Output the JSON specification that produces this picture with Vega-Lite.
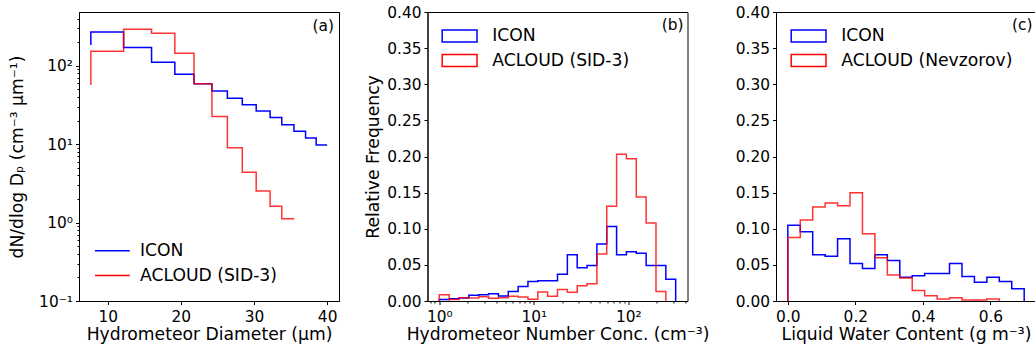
{
  "$schema": "https://vega.github.io/schema/vega-lite/v6.json",
  "padding": {"left": 8, "top": 4, "right": 0, "bottom": 0},
  "background": "white",
  "bounds": "flush",
  "spacing": 88.5,
  "datasets": {
    "psd": [
      {"d": 7.7, "v": 185, "s": "ICON"},
      {"d": 12.18, "v": 271, "s": "ICON"},
      {"d": 16.0, "v": 171, "s": "ICON"},
      {"d": 19.18, "v": 111, "s": "ICON"},
      {"d": 21.8, "v": 78, "s": "ICON"},
      {"d": 24.25, "v": 59, "s": "ICON"},
      {"d": 26.36, "v": 47.6, "s": "ICON"},
      {"d": 28.4, "v": 38.7, "s": "ICON"},
      {"d": 30.3, "v": 31.9, "s": "ICON"},
      {"d": 32.2, "v": 26.5, "s": "ICON"},
      {"d": 33.8, "v": 22.0, "s": "ICON"},
      {"d": 35.46, "v": 17.7, "s": "ICON"},
      {"d": 37.05, "v": 14.6, "s": "ICON"},
      {"d": 38.5, "v": 12.0, "s": "ICON"},
      {"d": 40.0, "v": 9.8, "s": "ICON"},
      {"d": 7.7, "v": 56.8, "s": "ACLOUD (SID-3)"},
      {"d": 12.18, "v": 154, "s": "ACLOUD (SID-3)"},
      {"d": 16.0, "v": 293, "s": "ACLOUD (SID-3)"},
      {"d": 19.18, "v": 261, "s": "ACLOUD (SID-3)"},
      {"d": 21.8, "v": 145, "s": "ACLOUD (SID-3)"},
      {"d": 24.25, "v": 59, "s": "ACLOUD (SID-3)"},
      {"d": 26.36, "v": 22.6, "s": "ACLOUD (SID-3)"},
      {"d": 28.4, "v": 9.0, "s": "ACLOUD (SID-3)"},
      {"d": 30.3, "v": 4.38, "s": "ACLOUD (SID-3)"},
      {"d": 32.2, "v": 2.53, "s": "ACLOUD (SID-3)"},
      {"d": 33.8, "v": 1.62, "s": "ACLOUD (SID-3)"},
      {"d": 35.5, "v": 1.12, "s": "ACLOUD (SID-3)"}
    ],
    "nc": [
      {"x": 1.0, "f": 0, "s": "ICON"},
      {"x": 1.2711, "f": 0.002, "s": "ICON"},
      {"x": 1.6155, "f": 0.003, "s": "ICON"},
      {"x": 2.0535, "f": 0.004, "s": "ICON"},
      {"x": 2.6102, "f": 0.0078, "s": "ICON"},
      {"x": 3.3176, "f": 0.0086, "s": "ICON"},
      {"x": 4.217, "f": 0.010, "s": "ICON"},
      {"x": 5.36, "f": 0.0068, "s": "ICON"},
      {"x": 6.8129, "f": 0.013, "s": "ICON"},
      {"x": 8.6596, "f": 0.020, "s": "ICON"},
      {"x": 11.007, "f": 0.027, "s": "ICON"},
      {"x": 13.99, "f": 0.028, "s": "ICON"},
      {"x": 17.783, "f": 0.028, "s": "ICON"},
      {"x": 22.603, "f": 0.037, "s": "ICON"},
      {"x": 28.73, "f": 0.064, "s": "ICON"},
      {"x": 36.517, "f": 0.046, "s": "ICON"},
      {"x": 46.416, "f": 0.049, "s": "ICON"},
      {"x": 58.997, "f": 0.079, "s": "ICON"},
      {"x": 74.989, "f": 0.103, "s": "ICON"},
      {"x": 95.315, "f": 0.064, "s": "ICON"},
      {"x": 121.15, "f": 0.068, "s": "ICON"},
      {"x": 153.99, "f": 0.066, "s": "ICON"},
      {"x": 195.73, "f": 0.049, "s": "ICON"},
      {"x": 248.78, "f": 0.049, "s": "ICON"},
      {"x": 316.23, "f": 0.030, "s": "ICON"},
      {"x": 316.23, "f": 0, "s": "ICON"},
      {"x": 1.0, "f": 0, "s": "ACLOUD (SID-3)"},
      {"x": 1.2711, "f": 0.0088, "s": "ACLOUD (SID-3)"},
      {"x": 1.6155, "f": 0.002, "s": "ACLOUD (SID-3)"},
      {"x": 2.0535, "f": 0.0046, "s": "ACLOUD (SID-3)"},
      {"x": 2.6102, "f": 0.004, "s": "ACLOUD (SID-3)"},
      {"x": 3.3176, "f": 0.006, "s": "ACLOUD (SID-3)"},
      {"x": 4.217, "f": 0.0037, "s": "ACLOUD (SID-3)"},
      {"x": 5.36, "f": 0.0045, "s": "ACLOUD (SID-3)"},
      {"x": 6.8129, "f": 0.0065, "s": "ACLOUD (SID-3)"},
      {"x": 8.6596, "f": 0.0055, "s": "ACLOUD (SID-3)"},
      {"x": 11.007, "f": 0.0023, "s": "ACLOUD (SID-3)"},
      {"x": 13.99, "f": 0.0124, "s": "ACLOUD (SID-3)"},
      {"x": 17.783, "f": 0.0065, "s": "ACLOUD (SID-3)"},
      {"x": 22.603, "f": 0.016, "s": "ACLOUD (SID-3)"},
      {"x": 28.73, "f": 0.012, "s": "ACLOUD (SID-3)"},
      {"x": 36.517, "f": 0.021, "s": "ACLOUD (SID-3)"},
      {"x": 46.416, "f": 0.024, "s": "ACLOUD (SID-3)"},
      {"x": 58.997, "f": 0.065, "s": "ACLOUD (SID-3)"},
      {"x": 74.989, "f": 0.131, "s": "ACLOUD (SID-3)"},
      {"x": 95.315, "f": 0.203, "s": "ACLOUD (SID-3)"},
      {"x": 121.15, "f": 0.197, "s": "ACLOUD (SID-3)"},
      {"x": 153.99, "f": 0.144, "s": "ACLOUD (SID-3)"},
      {"x": 195.73, "f": 0.108, "s": "ACLOUD (SID-3)"},
      {"x": 248.78, "f": 0.013, "s": "ACLOUD (SID-3)"},
      {"x": 248.78, "f": 0, "s": "ACLOUD (SID-3)"}
    ],
    "lwc": [
      {"x": 0.0, "f": 0, "s": "ICON"},
      {"x": 0.03684, "f": 0.105, "s": "ICON"},
      {"x": 0.07368, "f": 0.096, "s": "ICON"},
      {"x": 0.11053, "f": 0.064, "s": "ICON"},
      {"x": 0.14737, "f": 0.062, "s": "ICON"},
      {"x": 0.18421, "f": 0.086, "s": "ICON"},
      {"x": 0.22105, "f": 0.052, "s": "ICON"},
      {"x": 0.25789, "f": 0.045, "s": "ICON"},
      {"x": 0.29474, "f": 0.064, "s": "ICON"},
      {"x": 0.33158, "f": 0.056, "s": "ICON"},
      {"x": 0.36842, "f": 0.033, "s": "ICON"},
      {"x": 0.40526, "f": 0.035, "s": "ICON"},
      {"x": 0.44211, "f": 0.038, "s": "ICON"},
      {"x": 0.47895, "f": 0.038, "s": "ICON"},
      {"x": 0.51579, "f": 0.052, "s": "ICON"},
      {"x": 0.55263, "f": 0.034, "s": "ICON"},
      {"x": 0.58947, "f": 0.026, "s": "ICON"},
      {"x": 0.62632, "f": 0.033, "s": "ICON"},
      {"x": 0.66316, "f": 0.027, "s": "ICON"},
      {"x": 0.7, "f": 0.017, "s": "ICON"},
      {"x": 0.7, "f": 0, "s": "ICON"},
      {"x": 0.0, "f": 0, "s": "ACLOUD (Nevzorov)"},
      {"x": 0.03684, "f": 0.088, "s": "ACLOUD (Nevzorov)"},
      {"x": 0.07368, "f": 0.112, "s": "ACLOUD (Nevzorov)"},
      {"x": 0.11053, "f": 0.130, "s": "ACLOUD (Nevzorov)"},
      {"x": 0.14737, "f": 0.1355, "s": "ACLOUD (Nevzorov)"},
      {"x": 0.18421, "f": 0.132, "s": "ACLOUD (Nevzorov)"},
      {"x": 0.22105, "f": 0.150, "s": "ACLOUD (Nevzorov)"},
      {"x": 0.25789, "f": 0.093, "s": "ACLOUD (Nevzorov)"},
      {"x": 0.29474, "f": 0.060, "s": "ACLOUD (Nevzorov)"},
      {"x": 0.33158, "f": 0.036, "s": "ACLOUD (Nevzorov)"},
      {"x": 0.36842, "f": 0.032, "s": "ACLOUD (Nevzorov)"},
      {"x": 0.40526, "f": 0.0147, "s": "ACLOUD (Nevzorov)"},
      {"x": 0.44211, "f": 0.0074, "s": "ACLOUD (Nevzorov)"},
      {"x": 0.47895, "f": 0.0028, "s": "ACLOUD (Nevzorov)"},
      {"x": 0.51579, "f": 0.0046, "s": "ACLOUD (Nevzorov)"},
      {"x": 0.55263, "f": 0.0014, "s": "ACLOUD (Nevzorov)"},
      {"x": 0.58947, "f": 0.0014, "s": "ACLOUD (Nevzorov)"},
      {"x": 0.62632, "f": 0.0028, "s": "ACLOUD (Nevzorov)"},
      {"x": 0.62632, "f": 0, "s": "ACLOUD (Nevzorov)"}
    ]
  },
  "resolve": {"scale": {"color": "independent"}, "legend": {"color": "independent"}},
  "hconcat": [
    {
      "width": 260,
      "height": 289,
      "layer": [
        {
          "data": {"name": "psd"},
          "mark": {"type": "line", "interpolate": "step-before", "strokeWidth": 1.5},
          "encoding": {
            "x": {"field": "d", "type": "quantitative", "scale": {"domain": [6.08, 41.62], "nice": false, "zero": false},
              "axis": {"values": [10, 20, 30, 40], "title": "Hydrometeor Diameter (μm)"}},
            "y": {"field": "v", "type": "quantitative", "scale": {"type": "log", "domain": [0.1, 486], "nice": false},
              "axis": {"values": [0.1,0.2,0.3,0.4,0.5,0.6,0.7,0.8,0.9,1,2,3,4,5,6,7,8,9,10,20,30,40,50,60,70,80,90,100,200,300,400],
                "labelExpr": "datum.value == 0.1 ? '10⁻¹' : datum.value == 1 ? '10⁰' : datum.value == 10 ? '10¹' : datum.value == 100 ? '10²' : ''",
                "tickSize": {"condition": {"test": "indexof([0.1,1,10,100], datum.value) >= 0", "value": 3.5}, "value": 2},
                "labelOverlap": false,
                "titlePadding": 11.8,
                "title": "dN/dlog Dₚ    (cm⁻³ μm⁻¹)"}},
            "color": {"field": "s", "type": "nominal", "scale": {"domain": ["ICON", "ACLOUD (SID-3)"], "range": ["#0000ff", "#ff0000"]},
              "legend": {"orient": "none", "legendX": 24.8, "legendY": 230.2, "title": null, "symbolType": "M-2.9,0H2.9", "symbolSize": 144, "symbolStrokeWidth": 1.5, "symbolFillColor": "transparent", "labelFontSize": 17.2, "labelOffset": 19, "labelLimit": 0, "rowPadding": 6.8, "padding": 0}},
            "strokeOpacity": {"condition": {"test": "datum.s == 'ICON'", "value": 1}, "value": 0.8}
          }
        },
        {
          "data": {"values": [{}]},
          "mark": {"type": "text", "align": "right", "baseline": "alphabetic", "fontSize": 15.4, "font": "DejaVu Sans", "color": "black"},
          "encoding": {
            "x": {"datum": 40.94, "type": "quantitative",
              "axis": {"values": [10, 20, 30, 40], "title": "Hydrometeor Diameter (μm)"}},
            "y": {"datum": 282, "type": "quantitative",
              "axis": {"values": [0.1,0.2,0.3,0.4,0.5,0.6,0.7,0.8,0.9,1,2,3,4,5,6,7,8,9,10,20,30,40,50,60,70,80,90,100,200,300,400],
                "labelExpr": "datum.value == 0.1 ? '10⁻¹' : datum.value == 1 ? '10⁰' : datum.value == 10 ? '10¹' : datum.value == 100 ? '10²' : ''",
                "tickSize": {"condition": {"test": "indexof([0.1,1,10,100], datum.value) >= 0", "value": 3.5}, "value": 2},
                "labelOverlap": false,
                "titlePadding": 11.8,
                "title": "dN/dlog Dₚ    (cm⁻³ μm⁻¹)"}},
            "text": {"value": "(a)"}
          }
        }
      ]
    },
    {
      "width": 260,
      "height": 289,
      "layer": [
        {
          "data": {"name": "nc"},
          "mark": {"type": "line", "interpolate": "step-before", "strokeWidth": 1.5},
          "encoding": {
            "x": {"field": "x", "type": "quantitative", "scale": {"type": "log", "domain": [0.7499, 421.7], "nice": false},
              "axis": {"values": [0.8,0.9,1,2,3,4,5,6,7,8,9,10,20,30,40,50,60,70,80,90,100,200,300,400],
                "labelExpr": "datum.value == 1 ? '10⁰' : datum.value == 10 ? '10¹' : datum.value == 100 ? '10²' : ''",
                "tickSize": {"condition": {"test": "indexof([1,10,100], datum.value) >= 0", "value": 3.5}, "value": 2},
                "labelOverlap": false,
                "title": "Hydrometeor Number Conc. (cm⁻³)"}},
            "y": {"field": "f", "type": "quantitative", "scale": {"domain": [0, 0.4], "nice": false},
              "axis": {"values": [0,0.05,0.1,0.15,0.2,0.25,0.3,0.35,0.4], "format": ".2f", "labelOverlap": false, "title": "Relative Frequency"}},
            "color": {"field": "s", "type": "nominal", "scale": {"domain": ["ICON", "ACLOUD (SID-3)"], "range": ["#0000ff", "#ff0000"]},
              "legend": {"orient": "none", "legendX": 23.5, "legendY": 15.5, "title": null, "symbolType": "M-2.9,-1H2.9V1H-2.9Z", "symbolSize": 144, "symbolStrokeWidth": 1.5, "symbolFillColor": "transparent", "labelFontSize": 17.2, "labelOffset": 24, "labelLimit": 0, "rowPadding": 5.5, "padding": 0}},
            "strokeOpacity": {"condition": {"test": "datum.s == 'ICON'", "value": 1}, "value": 0.8}
          }
        },
        {
          "data": {"values": [{}]},
          "mark": {"type": "text", "align": "right", "baseline": "alphabetic", "fontSize": 15.4, "font": "DejaVu Sans", "color": "black"},
          "encoding": {
            "x": {"datum": 383, "type": "quantitative",
              "axis": {"values": [0.8,0.9,1,2,3,4,5,6,7,8,9,10,20,30,40,50,60,70,80,90,100,200,300,400],
                "labelExpr": "datum.value == 1 ? '10⁰' : datum.value == 10 ? '10¹' : datum.value == 100 ? '10²' : ''",
                "tickSize": {"condition": {"test": "indexof([1,10,100], datum.value) >= 0", "value": 3.5}, "value": 2},
                "labelOverlap": false,
                "title": "Hydrometeor Number Conc. (cm⁻³)"}},
            "y": {"datum": 0.3744, "type": "quantitative",
              "axis": {"values": [0,0.05,0.1,0.15,0.2,0.25,0.3,0.35,0.4], "format": ".2f", "labelOverlap": false, "title": "Relative Frequency"}},
            "text": {"value": "(b)"}
          }
        }
      ]
    },
    {
      "width": 260,
      "height": 289,
      "layer": [
        {
          "data": {"name": "lwc"},
          "mark": {"type": "line", "interpolate": "step-before", "strokeWidth": 1.5},
          "encoding": {
            "x": {"field": "x", "type": "quantitative", "scale": {"domain": [-0.035, 0.735], "nice": false, "zero": false},
              "axis": {"values": [0, 0.2, 0.4, 0.6], "format": ".1f", "title": "Liquid Water Content (g m⁻³)"}},
            "y": {"field": "f", "type": "quantitative", "scale": {"domain": [0, 0.4], "nice": false},
              "axis": {"values": [0,0.05,0.1,0.15,0.2,0.25,0.3,0.35,0.4], "format": ".2f", "labelOverlap": false, "title": null}},
            "color": {"field": "s", "type": "nominal", "scale": {"domain": ["ICON", "ACLOUD (Nevzorov)"], "range": ["#0000ff", "#ff0000"]},
              "legend": {"orient": "none", "legendX": 24, "legendY": 15.5, "title": null, "symbolType": "M-2.9,-1H2.9V1H-2.9Z", "symbolSize": 144, "symbolStrokeWidth": 1.5, "symbolFillColor": "transparent", "labelFontSize": 17.2, "labelOffset": 24, "labelLimit": 0, "rowPadding": 5.5, "padding": 0}},
            "strokeOpacity": {"condition": {"test": "datum.s == 'ICON'", "value": 1}, "value": 0.8}
          }
        },
        {
          "data": {"values": [{}]},
          "mark": {"type": "text", "align": "right", "baseline": "alphabetic", "fontSize": 15.4, "font": "DejaVu Sans", "color": "black"},
          "encoding": {
            "x": {"datum": 0.7246, "type": "quantitative",
              "axis": {"values": [0, 0.2, 0.4, 0.6], "format": ".1f", "title": "Liquid Water Content (g m⁻³)"}},
            "y": {"datum": 0.3744, "type": "quantitative",
              "axis": {"values": [0,0.05,0.1,0.15,0.2,0.25,0.3,0.35,0.4], "format": ".2f", "labelOverlap": false, "title": null}},
            "text": {"value": "(c)"}
          }
        }
      ]
    }
  ],
  "config": {
    "font": "DejaVu Sans",
    "view": {"stroke": "black", "strokeWidth": 1},
    "axis": {"grid": false, "labelFont": "DejaVu Sans", "titleFont": "DejaVu Sans", "labelFontSize": 15.4, "titleFontSize": 17.2, "titleFontWeight": "normal", "labelColor": "black", "titleColor": "black", "domainColor": "black", "tickColor": "black", "tickSize": 3.5, "labelPadding": 3, "labelOverlap": false, "labelFlush": false},
    "axisX": {"labelPadding": 4.5, "titlePadding": 1.5},
    "legend": {"labelFont": "DejaVu Sans", "labelColor": "black"}
  }
}
